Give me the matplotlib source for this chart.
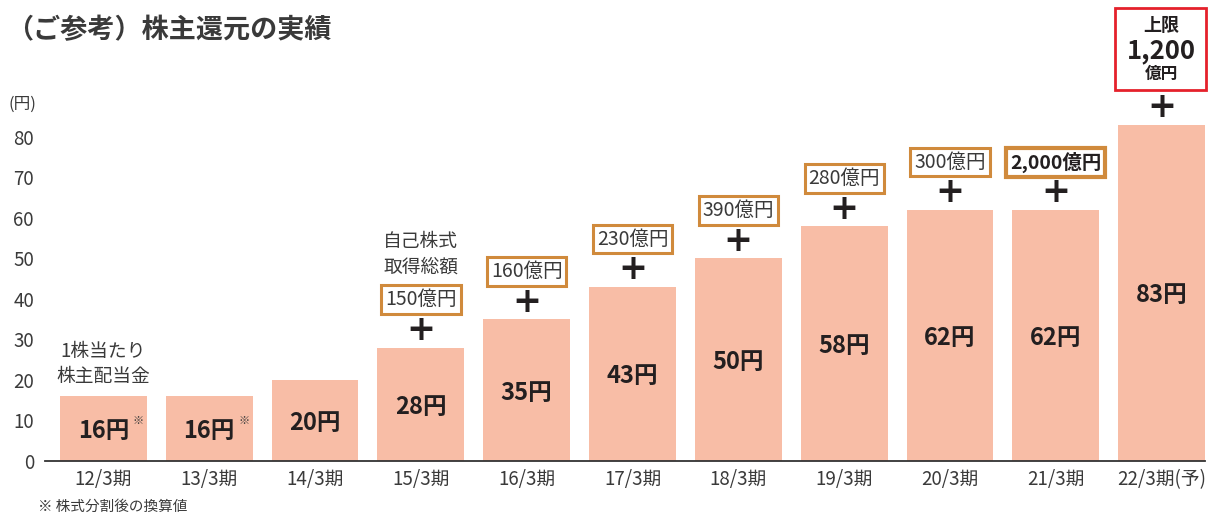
import matplotlib.pyplot as plt
from matplotlib.patches import Rectangle

plt.rcParams['font.family'] = ['Noto Sans CJK JP', 'DejaVu Sans']

# data
periods = ['12/3期', '13/3期', '14/3期', '15/3期', '16/3期', '17/3期',
           '18/3期', '19/3期', '20/3期', '21/3期', '22/3期(予)']
dividends = [16, 16, 20, 28, 35, 43, 50, 58, 62, 62, 83]
buybacks = [None, None, None, '150', '160', '230', '390', '280', '300', '2,000', None]
footnote_marks = [True, True, False, False, False, False, False, False, False, False, False]

BAR_COLOR = '#f8bda6'
BOX_EDGE = '#d08a3c'
RED = '#e5212b'
TEXT = '#231f20'
GRAY = '#3a3a3a'

fig = plt.figure(figsize=(12.11, 5.16), dpi=100)
ax = fig.add_axes([45 / 1211, 55 / 516, 1160 / 1211, 461 / 516])

x = list(range(len(periods)))
ax.bar(x, dividends, width=0.82, color=BAR_COLOR, zorder=2)

ax.set_xlim(-0.552, 10.41)
ax.set_ylim(0, 113.8)
ax.set_yticks(range(0, 81, 10))
ax.tick_params(axis='y', length=0, labelsize=13.5, labelcolor=GRAY, pad=8)
ax.set_xticks(x)
ax.set_xticklabels(periods)
ax.tick_params(axis='x', length=0, labelsize=13.5, labelcolor=GRAY, pad=6)
for s in ['top', 'right', 'left']:
    ax.spines[s].set_visible(False)
ax.spines['bottom'].set_color('#333333')
ax.spines['bottom'].set_linewidth(1.3)

# bar labels
for i, v in enumerate(dividends):
    ax.text(i, v / 2 - 0.6, f'{v}円', ha='center', va='center',
            fontsize=17, fontweight='bold', color=TEXT, zorder=3)
    if footnote_marks[i]:
        ax.text(i + 0.33, v / 2 + 1.8, '※', ha='center', va='center',
                fontsize=8, color=GRAY, zorder=3)

# buyback boxes and plus signs
for i, b in enumerate(buybacks):
    if b is None:
        continue
    top = dividends[i]
    ax.text(i, top + 4.3, '+', ha='center', va='center', fontsize=25,
            fontweight='bold', color=TEXT, family='DejaVu Sans')
    bold = b == '2,000'
    ax.text(i, top + 11.8, f'{b}億円', ha='center', va='center',
            fontsize=14,
            fontweight='bold' if bold else 'normal', color=TEXT if bold else GRAY,
            bbox=dict(boxstyle='square,pad=0.2', fc='white', ec=BOX_EDGE,
                      lw=3 if bold else 2.2))

# 22/3 plus and red box
last = len(dividends) - 1
ax.text(last, dividends[last] + 4.3, '+', ha='center', va='center', fontsize=25,
        fontweight='bold', color=TEXT, family='DejaVu Sans')
ax.add_patch(Rectangle((last - 0.44, 91.6), 0.86, 20.3, fill=False,
                       ec=RED, lw=2, clip_on=False))
ax.text(last, 107.6, '上限', ha='center', va='center', fontsize=13,
        fontweight='bold', color=TEXT)
ax.text(last, 101.3, '1,200', ha='center', va='center', fontsize=18.5,
        fontweight='bold', color=TEXT)
ax.text(last, 95.5, '億円', ha='center', va='center', fontsize=12,
        fontweight='bold', color=TEXT)

# annotations
ax.text(3, 51, '自己株式\n取得総額', ha='center', va='center', fontsize=13.5,
        color=GRAY, linespacing=1.25)
ax.text(0, 24, '1株当たり\n株主配当金', ha='center', va='center', fontsize=13.5,
        color=GRAY, linespacing=1.25)

fig.text(6 / 1211, 1 - 30 / 516, '（ご参考）株主還元の実績', ha='left', va='center',
         fontsize=19.5, fontweight='bold', color=GRAY)
fig.text(8 / 1211, 1 - 104 / 516, '(円)', ha='left', va='center',
         fontsize=12, color=GRAY)
fig.text(38 / 1211, 1 - 507 / 516, '※ 株式分割後の換算値', ha='left', va='center',
         fontsize=10.5, color=GRAY)

fig.savefig('out.png', dpi=100)
